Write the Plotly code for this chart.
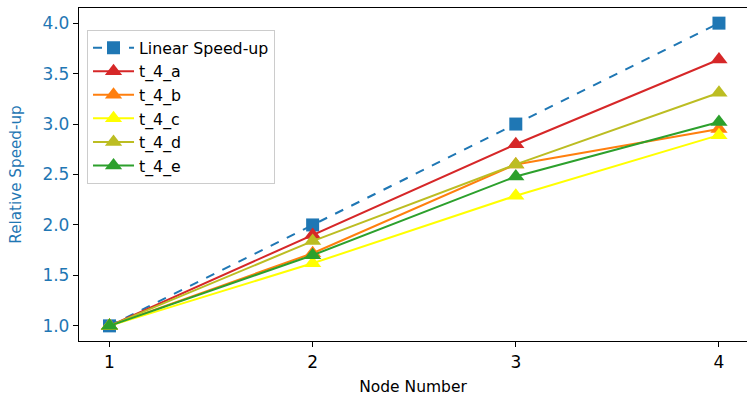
import plotly.graph_objects as go

nodes = [1, 2, 3, 4]
linear = [1.0, 2.0, 3.0, 4.0]
t_4_a = [1.0, 1.90, 2.80, 3.64]
t_4_b = [1.0, 1.72, 2.60, 2.95]
t_4_c = [1.0, 1.62, 2.29, 2.89]
t_4_d = [1.0, 1.84, 2.60, 3.31]
t_4_e = [1.0, 1.70, 2.48, 3.02]

series = [
    ("t_4_a", t_4_a, "#d62728"),
    ("t_4_b", t_4_b, "#ff7f0e"),
    ("t_4_c", t_4_c, "#ffff00"),
    ("t_4_d", t_4_d, "#bcbd22"),
    ("t_4_e", t_4_e, "#2ca02c"),
]

fig = go.Figure()
fig.add_trace(go.Scatter(
    x=nodes, y=linear, name="Linear Speed-up", mode="lines+markers",
    line=dict(color="#1f77b4", width=2, dash="dash"),
    marker=dict(symbol="square", size=13, color="#1f77b4"),
))
for name, vals, col in series:
    fig.add_trace(go.Scatter(
        x=nodes, y=vals, name=name, mode="lines+markers",
        line=dict(color=col, width=2),
        marker=dict(symbol="triangle-up", size=15, color=col),
    ))

fig.update_layout(
    width=747, height=396,
    margin=dict(l=79, r=0, t=8, b=55),
    plot_bgcolor="white", paper_bgcolor="white",
    font=dict(family="DejaVu Sans", color="black"),
    legend=dict(
        x=0.012, y=0.934, xanchor="left", yanchor="top",
        bgcolor="rgba(255,255,255,0.8)", bordercolor="#cccccc", borderwidth=1,
        font=dict(size=15.8, color="black"),
        tracegroupgap=0, itemwidth=41,
    ),
    xaxis=dict(
        range=[0.85, 4.138], tickvals=nodes, ticktext=[str(n) for n in nodes],
        showgrid=False, zeroline=False,
        showline=True, linecolor="black", linewidth=1.3, mirror=True,
        ticks="outside", ticklen=5, tickcolor="black",
        tickfont=dict(size=17, color="black"),
        title=dict(text="Node Number", font=dict(size=15.5, color="black"), standoff=14),
    ),
    yaxis=dict(
        range=[0.85, 4.15], tickvals=[1.0, 1.5, 2.0, 2.5, 3.0, 3.5, 4.0],
        ticktext=["1.0", "1.5", "2.0", "2.5", "3.0", "3.5", "4.0"],
        showgrid=False, zeroline=False,
        showline=True, linecolor="black", linewidth=1.3,
        ticks="outside", ticklen=5, tickcolor="black",
        tickfont=dict(size=17, color="#1f77b4"),
        title=dict(text="Relative Speed-up", font=dict(size=15.2, color="#1f77b4"), standoff=17),
    ),
)

fig.write_html("out.html")
